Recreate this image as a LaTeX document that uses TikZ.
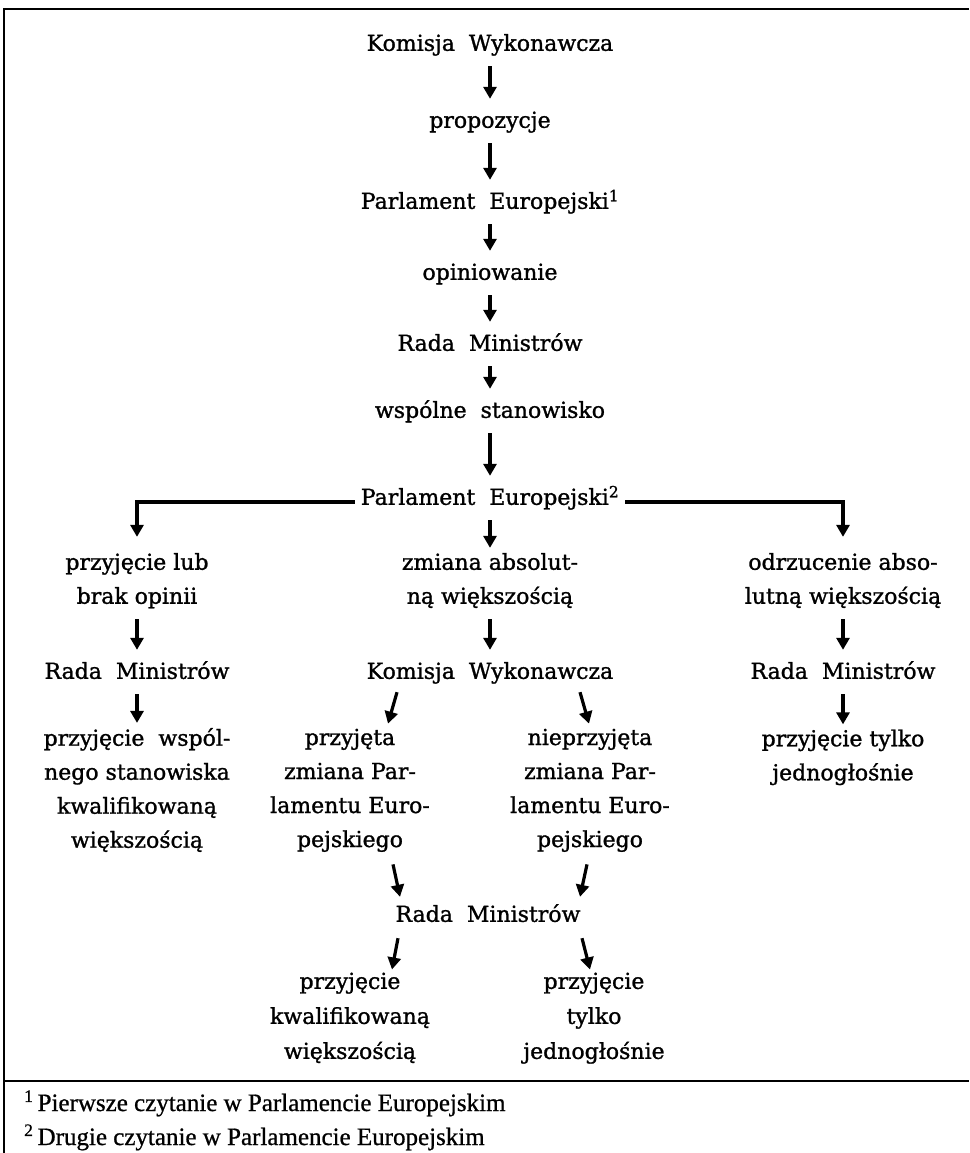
\documentclass[tikz,border=0pt]{standalone}
\usepackage{fontspec}
\setmainfont{DejaVu Serif}
\newfontfamily\mf{DejaVu Serif}[FakeBold=1.2]
\newfontfamily\fnfont{Liberation Serif}[FakeBold=0.8]
\usetikzlibrary{arrows.meta}
\begin{document}
\begin{tikzpicture}[x=1pt,y=-1pt,
  t/.style={inner sep=0pt, align=center, font=\mf\fontsize{22}{34}\selectfont,
    execute at begin node=\strut, execute at end node=\strut},
  tb/.style={t, font=\mf\fontsize{22}{35}\selectfont},
  tip/.style={-{Triangle[length=12pt,width=13pt]}},
  arr/.style={line width=3.2pt, tip, shorten <=5pt, shorten >=5pt},
  darr/.style={line width=3.2pt, tip},
  frame/.style={line width=1.8pt},
  br/.style={line width=3.4pt, tip, shorten <=6pt, shorten >=16pt},
  fn/.style={inner sep=0pt, anchor=base west, font=\fnfont\fontsize{25}{30}\selectfont},
]
\useasboundingbox (0,0) rectangle (969,1153);
% frame
\coordinate (tl) at (4,9); \coordinate (tr) at (969,9); \coordinate (bl) at (4,1153);
\coordinate (sl) at (4,1081); \coordinate (sr) at (969,1081);
\draw[frame] (tr) -- (tl) -- (bl);
\draw[frame] (sl) -- (sr);
% main chain
\node[t] (k1) at (490,44) {Komisja\ \ Wykonawcza};
\node[t] (p1) at (490,121) {propozycje};
\node[t] (pe1) at (490,202) {Parlament\ \ Europejski\textsuperscript{1}};
\node[t] (op) at (490,273) {opiniowanie};
\node[t] (r1) at (490,344) {Rada\ \ Ministrów};
\node[t] (ws) at (490,411) {wspólne\ \ stanowisko};
\node[t] (pe2) at (490,498) {Parlament\ \ Europejski\textsuperscript{2}};
% three branches
\node[t] (lb) at (137,583.5) {przyjęcie lub\\brak opinii};
\node[t] (zm) at (490,583.5) {zmiana absolut-\\ną większością};
\node[t] (rb) at (843,583.5) {odrzucenie abso-\\lutną większością};
\node[t] (lr) at (137,672) {Rada\ \ Ministrów};
\node[t] (k2) at (490,672) {Komisja\ \ Wykonawcza};
\node[t] (rr) at (843,672) {Rada\ \ Ministrów};
\node[t] (lp) at (137,793) {przyjęcie\ \ wspól-\\nego stanowiska\\kwalifikowaną\\większością};
\node[t] (pl) at (350,793) {przyjęta\\zmiana Par-\\lamentu Euro-\\pejskiego};
\node[t] (np) at (590,793) {nieprzyjęta\\zmiana Par-\\lamentu Euro-\\pejskiego};
\node[t] (rp) at (843,760) {przyjęcie tylko\\jednogłośnie};
\node[t] (r2) at (488,915) {Rada\ \ Ministrów};
\node[tb] (bk) at (350,1021) {przyjęcie\\kwalifikowaną\\większością};
\node[tb] (bt) at (594,1021) {przyjęcie\\tylko\\jednogłośnie};
% arrows
\draw[arr] (k1) -- (p1);
\draw[arr] (p1) -- (pe1);
\draw[arr] (pe1) -- (op);
\draw[arr] (op) -- (r1);
\draw[arr] (r1) -- (ws);
\draw[arr] (ws) -- (pe2);
\draw[br] ([yshift=-4pt]pe2.west) -| (lb.north);
\draw[br] ([yshift=-4pt]pe2.east) -| (rb.north);
\draw[arr] (pe2) -- (zm);
\draw[arr] (lb) -- (lr);
\draw[arr] (lr) -- (lp);
\draw[arr] (zm) -- (k2);
\draw[arr] (rb) -- (rr);
\draw[arr] (rr) -- (rp);
\draw[darr] ([xshift=-93pt,yshift=-3pt]k2.south) -- ([xshift=38pt,yshift=5pt]pl.north);
\draw[darr] ([xshift=90pt,yshift=-3pt]k2.south) -- ([xshift=-1pt,yshift=5pt]np.north);
\draw[darr] ([xshift=43pt,yshift=-7pt]pl.south) -- ([xshift=-88pt,yshift=1pt]r2.north);
\draw[darr] ([xshift=-3pt,yshift=-7pt]np.south) -- ([xshift=92pt,yshift=1pt]r2.north);
\draw[darr] ([xshift=-90pt,yshift=-6pt]r2.south) -- ([xshift=42pt,yshift=3pt]bk.north);
\draw[darr] ([xshift=94pt,yshift=-6pt]r2.south) -- ([xshift=-4pt,yshift=3pt]bt.north);
% footnotes
\node[fn] (f1) at (24,1111) {\textsuperscript{1}\,Pierwsze czytanie w Parlamencie Europejskim};
\node[fn] (f2) at (24,1145) {\textsuperscript{2}\,Drugie czytanie w Parlamencie Europejskim};
\end{tikzpicture}
\end{document}
